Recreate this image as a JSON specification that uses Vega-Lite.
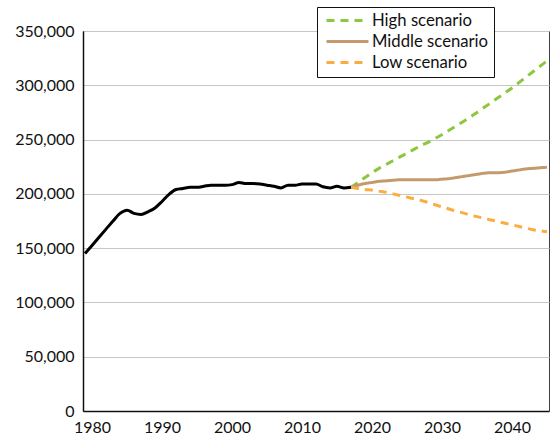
{
  "$schema": "https://vega.github.io/schema/vega-lite/v6.json",
  "autosize": {"type": "none"},
  "padding": {"left": 83, "top": 31, "right": 4, "bottom": 27},
  "width": 466,
  "height": 380,
  "background": "white",
  "config": {
    "view": {"stroke": "#404040", "strokeWidth": 1},
    "font": "Lato",
    "axis": {"labelFont": "Lato", "labelFontSize": 16, "labelColor": "#111111", "ticks": false, "domainColor": "#111111", "domainWidth": 1.5, "title": null}
  },
  "datasets": {
    "hist": [
      {"year": 1979, "value": 145000}, {"year": 1980, "value": 152500}, {"year": 1981, "value": 160000},
      {"year": 1982, "value": 167500}, {"year": 1983, "value": 175000}, {"year": 1984, "value": 182000},
      {"year": 1985, "value": 185000}, {"year": 1986, "value": 182000}, {"year": 1987, "value": 181000},
      {"year": 1988, "value": 183500}, {"year": 1989, "value": 187000}, {"year": 1990, "value": 193000},
      {"year": 1991, "value": 199500}, {"year": 1992, "value": 204000}, {"year": 1993, "value": 205000},
      {"year": 1994, "value": 206000}, {"year": 1995, "value": 206000}, {"year": 1996, "value": 207000},
      {"year": 1997, "value": 208000}, {"year": 1998, "value": 208000}, {"year": 1999, "value": 208000},
      {"year": 2000, "value": 208500}, {"year": 2001, "value": 210500}, {"year": 2002, "value": 209500},
      {"year": 2003, "value": 209500}, {"year": 2004, "value": 209000}, {"year": 2005, "value": 208000},
      {"year": 2006, "value": 207000}, {"year": 2007, "value": 205500}, {"year": 2008, "value": 208000},
      {"year": 2009, "value": 208000}, {"year": 2010, "value": 209000}, {"year": 2011, "value": 209000},
      {"year": 2012, "value": 209000}, {"year": 2013, "value": 206500}, {"year": 2014, "value": 205500},
      {"year": 2015, "value": 207000}, {"year": 2016, "value": 205500}, {"year": 2017, "value": 206000}
    ],
    "proj": [
      {"year": 2017, "series": "High scenario", "value": 206000},
      {"year": 2018, "series": "High scenario", "value": 210500},
      {"year": 2019, "series": "High scenario", "value": 215000},
      {"year": 2020, "series": "High scenario", "value": 219500},
      {"year": 2021, "series": "High scenario", "value": 223500},
      {"year": 2022, "series": "High scenario", "value": 227000},
      {"year": 2023, "series": "High scenario", "value": 230500},
      {"year": 2024, "series": "High scenario", "value": 234000},
      {"year": 2025, "series": "High scenario", "value": 237500},
      {"year": 2026, "series": "High scenario", "value": 241000},
      {"year": 2027, "series": "High scenario", "value": 244500},
      {"year": 2028, "series": "High scenario", "value": 247500},
      {"year": 2029, "series": "High scenario", "value": 251000},
      {"year": 2030, "series": "High scenario", "value": 254500},
      {"year": 2031, "series": "High scenario", "value": 258500},
      {"year": 2032, "series": "High scenario", "value": 262500},
      {"year": 2033, "series": "High scenario", "value": 266500},
      {"year": 2034, "series": "High scenario", "value": 270500},
      {"year": 2035, "series": "High scenario", "value": 275000},
      {"year": 2036, "series": "High scenario", "value": 279500},
      {"year": 2037, "series": "High scenario", "value": 284000},
      {"year": 2038, "series": "High scenario", "value": 288500},
      {"year": 2039, "series": "High scenario", "value": 293000},
      {"year": 2040, "series": "High scenario", "value": 297500},
      {"year": 2041, "series": "High scenario", "value": 302500},
      {"year": 2042, "series": "High scenario", "value": 307500},
      {"year": 2043, "series": "High scenario", "value": 312500},
      {"year": 2044, "series": "High scenario", "value": 317500},
      {"year": 2045, "series": "High scenario", "value": 322500},
      {"year": 2017, "series": "Middle scenario", "value": 206000},
      {"year": 2018, "series": "Middle scenario", "value": 208000},
      {"year": 2019, "series": "Middle scenario", "value": 209500},
      {"year": 2020, "series": "Middle scenario", "value": 210500},
      {"year": 2021, "series": "Middle scenario", "value": 211500},
      {"year": 2022, "series": "Middle scenario", "value": 212000},
      {"year": 2023, "series": "Middle scenario", "value": 212500},
      {"year": 2024, "series": "Middle scenario", "value": 213000},
      {"year": 2025, "series": "Middle scenario", "value": 213000},
      {"year": 2026, "series": "Middle scenario", "value": 213000},
      {"year": 2027, "series": "Middle scenario", "value": 213000},
      {"year": 2028, "series": "Middle scenario", "value": 213000},
      {"year": 2029, "series": "Middle scenario", "value": 213000},
      {"year": 2030, "series": "Middle scenario", "value": 213500},
      {"year": 2031, "series": "Middle scenario", "value": 214000},
      {"year": 2032, "series": "Middle scenario", "value": 215000},
      {"year": 2033, "series": "Middle scenario", "value": 216000},
      {"year": 2034, "series": "Middle scenario", "value": 217000},
      {"year": 2035, "series": "Middle scenario", "value": 218000},
      {"year": 2036, "series": "Middle scenario", "value": 219000},
      {"year": 2037, "series": "Middle scenario", "value": 219500},
      {"year": 2038, "series": "Middle scenario", "value": 219500},
      {"year": 2039, "series": "Middle scenario", "value": 220000},
      {"year": 2040, "series": "Middle scenario", "value": 221000},
      {"year": 2041, "series": "Middle scenario", "value": 222000},
      {"year": 2042, "series": "Middle scenario", "value": 223000},
      {"year": 2043, "series": "Middle scenario", "value": 223500},
      {"year": 2044, "series": "Middle scenario", "value": 224000},
      {"year": 2045, "series": "Middle scenario", "value": 224500},
      {"year": 2017, "series": "Low scenario", "value": 206000},
      {"year": 2018, "series": "Low scenario", "value": 205000},
      {"year": 2019, "series": "Low scenario", "value": 204000},
      {"year": 2020, "series": "Low scenario", "value": 203500},
      {"year": 2021, "series": "Low scenario", "value": 202500},
      {"year": 2022, "series": "Low scenario", "value": 201500},
      {"year": 2023, "series": "Low scenario", "value": 200000},
      {"year": 2024, "series": "Low scenario", "value": 198500},
      {"year": 2025, "series": "Low scenario", "value": 197000},
      {"year": 2026, "series": "Low scenario", "value": 195500},
      {"year": 2027, "series": "Low scenario", "value": 194000},
      {"year": 2028, "series": "Low scenario", "value": 192000},
      {"year": 2029, "series": "Low scenario", "value": 190000},
      {"year": 2030, "series": "Low scenario", "value": 188000},
      {"year": 2031, "series": "Low scenario", "value": 186000},
      {"year": 2032, "series": "Low scenario", "value": 184000},
      {"year": 2033, "series": "Low scenario", "value": 182500},
      {"year": 2034, "series": "Low scenario", "value": 180500},
      {"year": 2035, "series": "Low scenario", "value": 179000},
      {"year": 2036, "series": "Low scenario", "value": 177500},
      {"year": 2037, "series": "Low scenario", "value": 176000},
      {"year": 2038, "series": "Low scenario", "value": 174500},
      {"year": 2039, "series": "Low scenario", "value": 173000},
      {"year": 2040, "series": "Low scenario", "value": 171500},
      {"year": 2041, "series": "Low scenario", "value": 170000},
      {"year": 2042, "series": "Low scenario", "value": 168500},
      {"year": 2043, "series": "Low scenario", "value": 167000},
      {"year": 2044, "series": "Low scenario", "value": 166000},
      {"year": 2045, "series": "Low scenario", "value": 165000}
    ]
  },
  "encoding": {
    "x": {
      "field": "year", "type": "quantitative",
      "scale": {"domain": [1978.71, 2045.29], "nice": false, "zero": false},
      "axis": {"values": [1980, 1990, 2000, 2010, 2020, 2030, 2040], "format": "d", "grid": false, "labelPadding": 8, "labelFlush": false}
    },
    "y": {
      "field": "value", "type": "quantitative",
      "scale": {"domain": [0, 350000], "nice": false},
      "axis": {"values": [0, 50000, 100000, 150000, 200000, 250000, 300000, 350000], "format": ",d", "grid": true, "gridColor": "#c6c6c6", "gridWidth": 1, "labelPadding": 9}
    }
  },
  "layer": [
    {
      "data": {"name": "proj"},
      "mark": {"type": "line", "strokeWidth": 3, "interpolate": "monotone"},
      "encoding": {
        "color": {
          "field": "series", "type": "nominal",
          "scale": {"domain": ["High scenario", "Middle scenario", "Low scenario"], "range": ["#8DC63F", "#C49A6C", "#FBAD3F"]},
          "legend": {
            "title": null, "orient": "none", "legendX": 234, "legendY": -24,
            "fillColor": "white", "strokeColor": "#111111", "padding": 5,
            "symbolType": "M-3,0H3", "symbolSize": 196, "symbolStrokeWidth": 3, "symbolOffset": 17,
            "labelFont": "Lato", "labelFontSize": 16.7, "labelColor": "#111111",
            "rowPadding": 3, "labelOffset": 16
          }
        },
        "strokeDash": {
          "field": "series", "type": "nominal",
          "scale": {"domain": ["High scenario", "Middle scenario", "Low scenario"], "range": [[8, 6], [1, 0], [8, 6]]},
          "legend": {
            "title": null, "orient": "none", "legendX": 234, "legendY": -24,
            "fillColor": "white", "strokeColor": "#111111", "padding": 5,
            "symbolType": "M-3,0H3", "symbolSize": 196, "symbolStrokeWidth": 3, "symbolOffset": 17,
            "labelFont": "Lato", "labelFontSize": 16.7, "labelColor": "#111111",
            "rowPadding": 3, "labelOffset": 16
          }
        }
      }
    },
    {
      "data": {"name": "hist"},
      "mark": {"type": "line", "strokeWidth": 3, "color": "black", "interpolate": "monotone"}
    }
  ]
}
